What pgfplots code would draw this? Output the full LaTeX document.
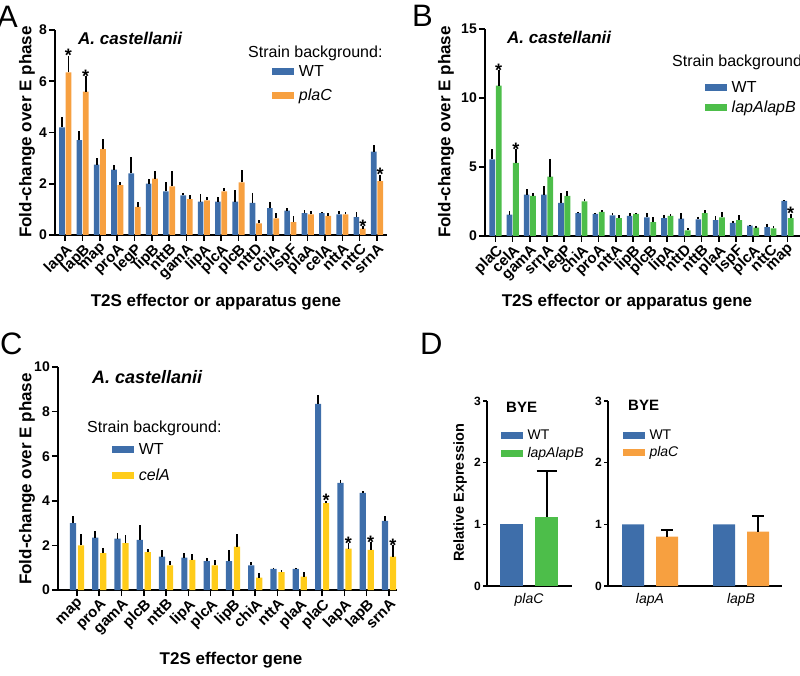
\documentclass[border=0pt]{standalone}
\usepackage{pgfplots}
\pgfplotsset{compat=1.18}
\usepackage{pgfplotstable}
\usepackage{fontspec}
\setmainfont{Liberation Sans}
\definecolor{wtblue}{HTML}{3E6EAA}
\definecolor{plorange}{HTML}{F7A040}
\definecolor{lgreen}{HTML}{4DBE4A}
\definecolor{cyellow}{HTML}{FFCC1A}
\newcommand{\fs}[1]{\fontsize{#1}{#1}\selectfont}

\pgfplotstableread{
x label wt wte mu mue
0 lapA 4.2 0.4 6.35 0.65
1 lapB 3.7 0.35 5.6 0.6
2 map 2.75 0.25 3.35 0.4
3 proA 2.55 0.2 1.95 0.1
4 legP 2.4 0.65 1.1 0.2
5 lipB 2.0 0.2 2.2 0.3
6 nttB 1.7 0.35 1.9 0.6
7 gamA 1.55 0.1 1.4 0.15
8 lipA 1.3 0.3 1.35 0.15
9 plcA 1.3 0.2 1.7 0.15
10 plcB 1.3 0.45 2.05 0.5
11 nttD 1.25 0.4 0.45 0.15
12 chiA 1.05 0.25 0.65 0.2
13 lspF 0.95 0.1 0.5 0.25
14 plaA 0.85 0.12 0.8 0.12
15 celA 0.85 0.05 0.75 0.1
16 nttA 0.8 0.15 0.8 0.1
17 nttC 0.7 0.2 0.25 0.1
18 srnA 3.25 0.25 2.1 0.25
}\tabA

\pgfplotstableread{
x label wt wte mu mue
0 plaC 5.55 0.75 10.9 1.1
1 celA 1.55 0.25 5.3 1.0
2 gamA 3.0 0.4 2.9 0.2
3 srnA 3.0 0.6 4.3 1.3
4 legP 2.4 0.7 2.9 0.35
5 chiA 1.65 0.1 2.5 0.2
6 proA 1.6 0.1 1.75 0.1
7 nttA 1.5 0.2 1.3 0.2
8 lipB 1.45 0.2 1.6 0.1
9 plcB 1.35 0.35 1.0 0.35
10 lipA 1.3 0.25 1.45 0.15
11 nttD 1.25 0.4 0.4 0.2
12 nttB 1.2 0.2 1.65 0.2
13 plaA 1.15 0.3 1.35 0.4
14 lspF 0.95 0.15 1.15 0.35
15 plcA 0.75 0.05 0.6 0.15
16 nttC 0.65 0.25 0.55 0.15
17 map 2.55 0.05 1.3 0.3
}\tabB

\pgfplotstableread{
x label wt wte mu mue
0 map 3.0 0.3 2.0 0.5
1 proA 2.35 0.3 1.65 0.25
2 gamA 2.3 0.25 2.1 0.35
3 plcB 2.25 0.65 1.7 0.15
4 nttB 1.5 0.3 1.1 0.2
5 lipA 1.45 0.2 1.35 0.25
6 plcA 1.3 0.15 1.1 0.25
7 lipB 1.3 0.5 1.95 0.55
8 chiA 1.1 0.15 0.55 0.2
9 nttA 0.95 0.05 0.8 0.1
10 plaA 0.95 0.05 0.6 0.2
11 plaC 8.35 0.4 3.9 0.1
12 lapA 4.8 0.15 1.85 0.25
13 lapB 4.35 0.1 1.8 0.35
14 srnA 3.1 0.2 1.5 0.5
}\tabC

\pgfplotsset{
  panel/.style={
    scale only axis, ymin=0, clip=false,
    axis x line*=bottom, axis y line*=left,
    axis line style={line width=1.6pt,-},
    every tick/.style={line width=1.6pt, black},
    tick align=outside, major tick length=6pt,
    /pgf/number format/assume math mode=true,
    yticklabel style={font=\bfseries\fs{14}, inner sep=2pt},
    xticklabel style={rotate=45, anchor=north east, font=\bfseries\fs{15}, inner sep=1pt},
    legend style={draw=none, fill=none, anchor=west, font=\fs{16}, inner sep=0pt, legend cell align=left},
  },
  dpanel/.style={
    scale only axis, ymin=0, ymax=3, ytick={0,1,2,3}, clip=false,
    axis x line*=bottom, axis y line*=left,
    axis line style={line width=1.4pt,-},
    every tick/.style={line width=1.4pt, black},
    tick align=outside, major tick length=4pt,
    x tick style={draw=none},
    /pgf/number format/assume math mode=true,
    yticklabel style={font=\bfseries\fs{12}, inner sep=2pt},
    xticklabel style={font=\itshape\fs{14}, inner sep=3pt},
    legend style={draw=none, fill=none, anchor=west, font=\fs{14}, inner sep=0pt, legend cell align=left, row sep=2pt},
  },
  errs/.style={error bars/.cd, y dir=plus, y explicit, error bar style={line width=1.8pt, draw=black, xshift=#1}, error mark=none},
  derrs/.style={error bars/.cd, y dir=plus, y explicit, error bar style={line width=2pt, draw=black}, error mark=|, error mark options={line width=2pt, mark size=#1, draw=black}},
  swatch/.style={legend image code/.code={\fill[#1] (0pt,-3.5pt) rectangle (22pt,3.5pt);}},
}

\begin{document}
\begin{tikzpicture}
\path[use as bounding box] (0,0) rectangle (800pt,675pt);

% ---------------- Panel A ----------------
\begin{axis}[panel, at={(55pt,440pt)}, anchor=south west, width=332pt, height=205pt,
  xmin=-0.59, xmax=18.58, ymax=8, ytick={0,2,4,6,8},
  xtick={0,...,18}, xticklabels from table={\tabA}{label},
  legend style={at={(axis description cs:0.654,0.737)}, row sep=7pt}]
\addplot[ybar, bar width=5.6pt, bar shift=-3.2pt, fill=wtblue, draw=none, swatch=wtblue, errs=-3.2pt] table[x=x, y=wt, y error=wte] {\tabA};
\addplot[ybar, bar width=5.8pt, bar shift=3.2pt, fill=plorange, draw=none, swatch=plorange, errs=3.2pt] table[x=x, y=mu, y error=mue] {\tabA};
\legend{\,WT, \,\textit{plaC}}
\node[font=\bfseries\fs{18}, anchor=base, xshift=3.2pt, yshift=-6pt] at (axis cs:0,7.0) {*};
\node[font=\bfseries\fs{18}, anchor=base, xshift=3.2pt, yshift=-6pt] at (axis cs:1,6.2) {*};
\node[font=\bfseries\fs{18}, anchor=base, xshift=3.2pt, yshift=-6pt] at (axis cs:17,0.35) {*};
\node[font=\bfseries\fs{18}, anchor=base, xshift=3.2pt, yshift=-6pt] at (axis cs:18,2.35) {*};
\end{axis}

% ---------------- Panel B ----------------
\begin{axis}[panel, at={(485pt,439pt)}, anchor=south west, width=315pt, height=207pt,
  xmin=-0.61, xmax=17.73, ymax=15, ytick={0,5,10,15},
  xtick={0,...,17}, xticklabels from table={\tabB}{label},
  legend style={at={(axis description cs:0.698,0.667)}, row sep=3pt}]
\addplot[ybar, bar width=5.6pt, bar shift=-3.2pt, fill=wtblue, draw=none, swatch=wtblue, errs=-3.2pt] table[x=x, y=wt, y error=wte] {\tabB};
\addplot[ybar, bar width=5.8pt, bar shift=3.2pt, fill=lgreen, draw=none, swatch=lgreen, errs=3.2pt] table[x=x, y=mu, y error=mue] {\tabB};
\legend{\,WT, \,\textit{lapAlapB}}
\node[font=\bfseries\fs{18}, anchor=base, xshift=3.2pt, yshift=-6pt] at (axis cs:0,12.0) {*};
\node[font=\bfseries\fs{18}, anchor=base, xshift=3.2pt, yshift=-6pt] at (axis cs:1,6.3) {*};
\node[font=\bfseries\fs{18}, anchor=base, xshift=3.2pt, yshift=-6pt] at (axis cs:17,1.6) {*};
\end{axis}

% ---------------- Panel C ----------------
\begin{axis}[panel, at={(58pt,85pt)}, anchor=south west, width=339pt, height=223pt,
  xmin=-0.85, xmax=14.36, ymax=10, ytick={0,2,4,6,8,10},
  xtick={0,...,14}, xticklabels from table={\tabC}{label},
  legend style={at={(axis description cs:0.159,0.570)}, row sep=9pt}]
\addplot[ybar, bar width=6.2pt, bar shift=-4pt, fill=wtblue, draw=none, swatch=wtblue, errs=-4pt] table[x=x, y=wt, y error=wte] {\tabC};
\addplot[ybar, bar width=6.2pt, bar shift=4pt, fill=cyellow, draw=none, swatch=cyellow, errs=4pt] table[x=x, y=mu, y error=mue] {\tabC};
\legend{\,WT, \,\textit{celA}}
\node[font=\bfseries\fs{18}, anchor=base, xshift=4pt, yshift=-6pt] at (axis cs:11,4.0) {*};
\node[font=\bfseries\fs{18}, anchor=base, xshift=4pt, yshift=-6pt] at (axis cs:12,2.1) {*};
\node[font=\bfseries\fs{18}, anchor=base, xshift=4pt, yshift=-6pt] at (axis cs:13,2.15) {*};
\node[font=\bfseries\fs{18}, anchor=base, xshift=4pt, yshift=-6pt] at (axis cs:14,2.0) {*};
\end{axis}

% ---------------- Panel D left ----------------
\begin{axis}[dpanel, at={(487pt,89pt)}, anchor=south west, width=85pt, height=185pt,
  xmin=-42, xmax=43, xtick={0}, xticklabels={plaC},
  legend style={at={(axis description cs:0.165,0.765)}}]
\addplot[ybar, bar width=23pt, bar shift=0pt, fill=wtblue, draw=none, swatch=wtblue] coordinates {(-17.5,1.0)};
\addplot[ybar, bar width=23pt, bar shift=0pt, fill=lgreen, draw=none, swatch=lgreen, derrs=10pt] coordinates {(17.5,1.12) +- (0,0.75)};
\legend{\,WT, \,\textit{lapAlapB}}
\end{axis}

% ---------------- Panel D right ----------------
\begin{axis}[dpanel, at={(608pt,89pt)}, anchor=south west, width=174pt, height=185pt,
  xmin=-42, xmax=132, xtick={0,91}, xticklabels={lapA,lapB},
  legend style={at={(axis description cs:0.086,0.768)}}]
\addplot[ybar, bar width=22pt, bar shift=0pt, fill=wtblue, draw=none, swatch=wtblue] coordinates {(-17,1.0) (74,1.0)};
\addplot[ybar, bar width=22pt, bar shift=0pt, fill=plorange, draw=none, swatch=plorange, derrs=6pt] coordinates {(17,0.80) +- (0,0.11) (108,0.88) +- (0,0.25)};
\legend{\,WT, \,\textit{plaC}}
\end{axis}

% ---------------- Texts ----------------
\node[font=\fs{31}, anchor=base west, inner sep=0pt] at (-3pt,647pt) {A};
\node[font=\fs{31}, anchor=base west, inner sep=0pt] at (412pt,648pt) {B};
\node[font=\fs{31}, anchor=base west, inner sep=0pt] at (0pt,320pt) {C};
\node[font=\fs{31}, anchor=base west, inner sep=0pt] at (420pt,320pt) {D};

\node[font=\bfseries\fs{17}, rotate=90] at (27pt,543pt) {Fold-change over E phase};
\node[font=\bfseries\fs{17}, rotate=90] at (446pt,543pt) {Fold-change over E phase};
\node[font=\bfseries\fs{17}, rotate=90] at (27pt,196pt) {Fold-change over E phase};
\node[font=\bfseries\fs{14.5}, rotate=90] at (460pt,182pt) {Relative Expression};

\node[font=\bfseries\fs{17}] at (216pt,373pt) {T2S effector or apparatus gene};
\node[font=\bfseries\fs{17}] at (627pt,373pt) {T2S effector or apparatus gene};
\node[font=\bfseries\fs{17}] at (231pt,15pt) {T2S effector gene};

\node[font=\bfseries\itshape\fs{17}, anchor=west, inner sep=0pt] at (78pt,637pt) {A. castellanii};
\node[font=\bfseries\itshape\fs{17}, anchor=west, inner sep=0pt] at (507pt,638pt) {A. castellanii};
\node[font=\bfseries\itshape\fs{18}, anchor=west, inner sep=0pt] at (92pt,298pt) {A. castellanii};

\node[font=\fs{16}, anchor=west, inner sep=0pt] at (248pt,622pt) {Strain background:};
\node[font=\fs{16}, anchor=west, inner sep=0pt] at (672pt,613pt) {Strain background:};
\node[font=\fs{16}, anchor=west, inner sep=0pt] at (87pt,247pt) {Strain background:};

\node[font=\bfseries\fs{15}, anchor=west, inner sep=0pt] at (506pt,268pt) {BYE};
\node[font=\bfseries\fs{15}, anchor=west, inner sep=0pt] at (628pt,270pt) {BYE};
\end{tikzpicture}
\end{document}
